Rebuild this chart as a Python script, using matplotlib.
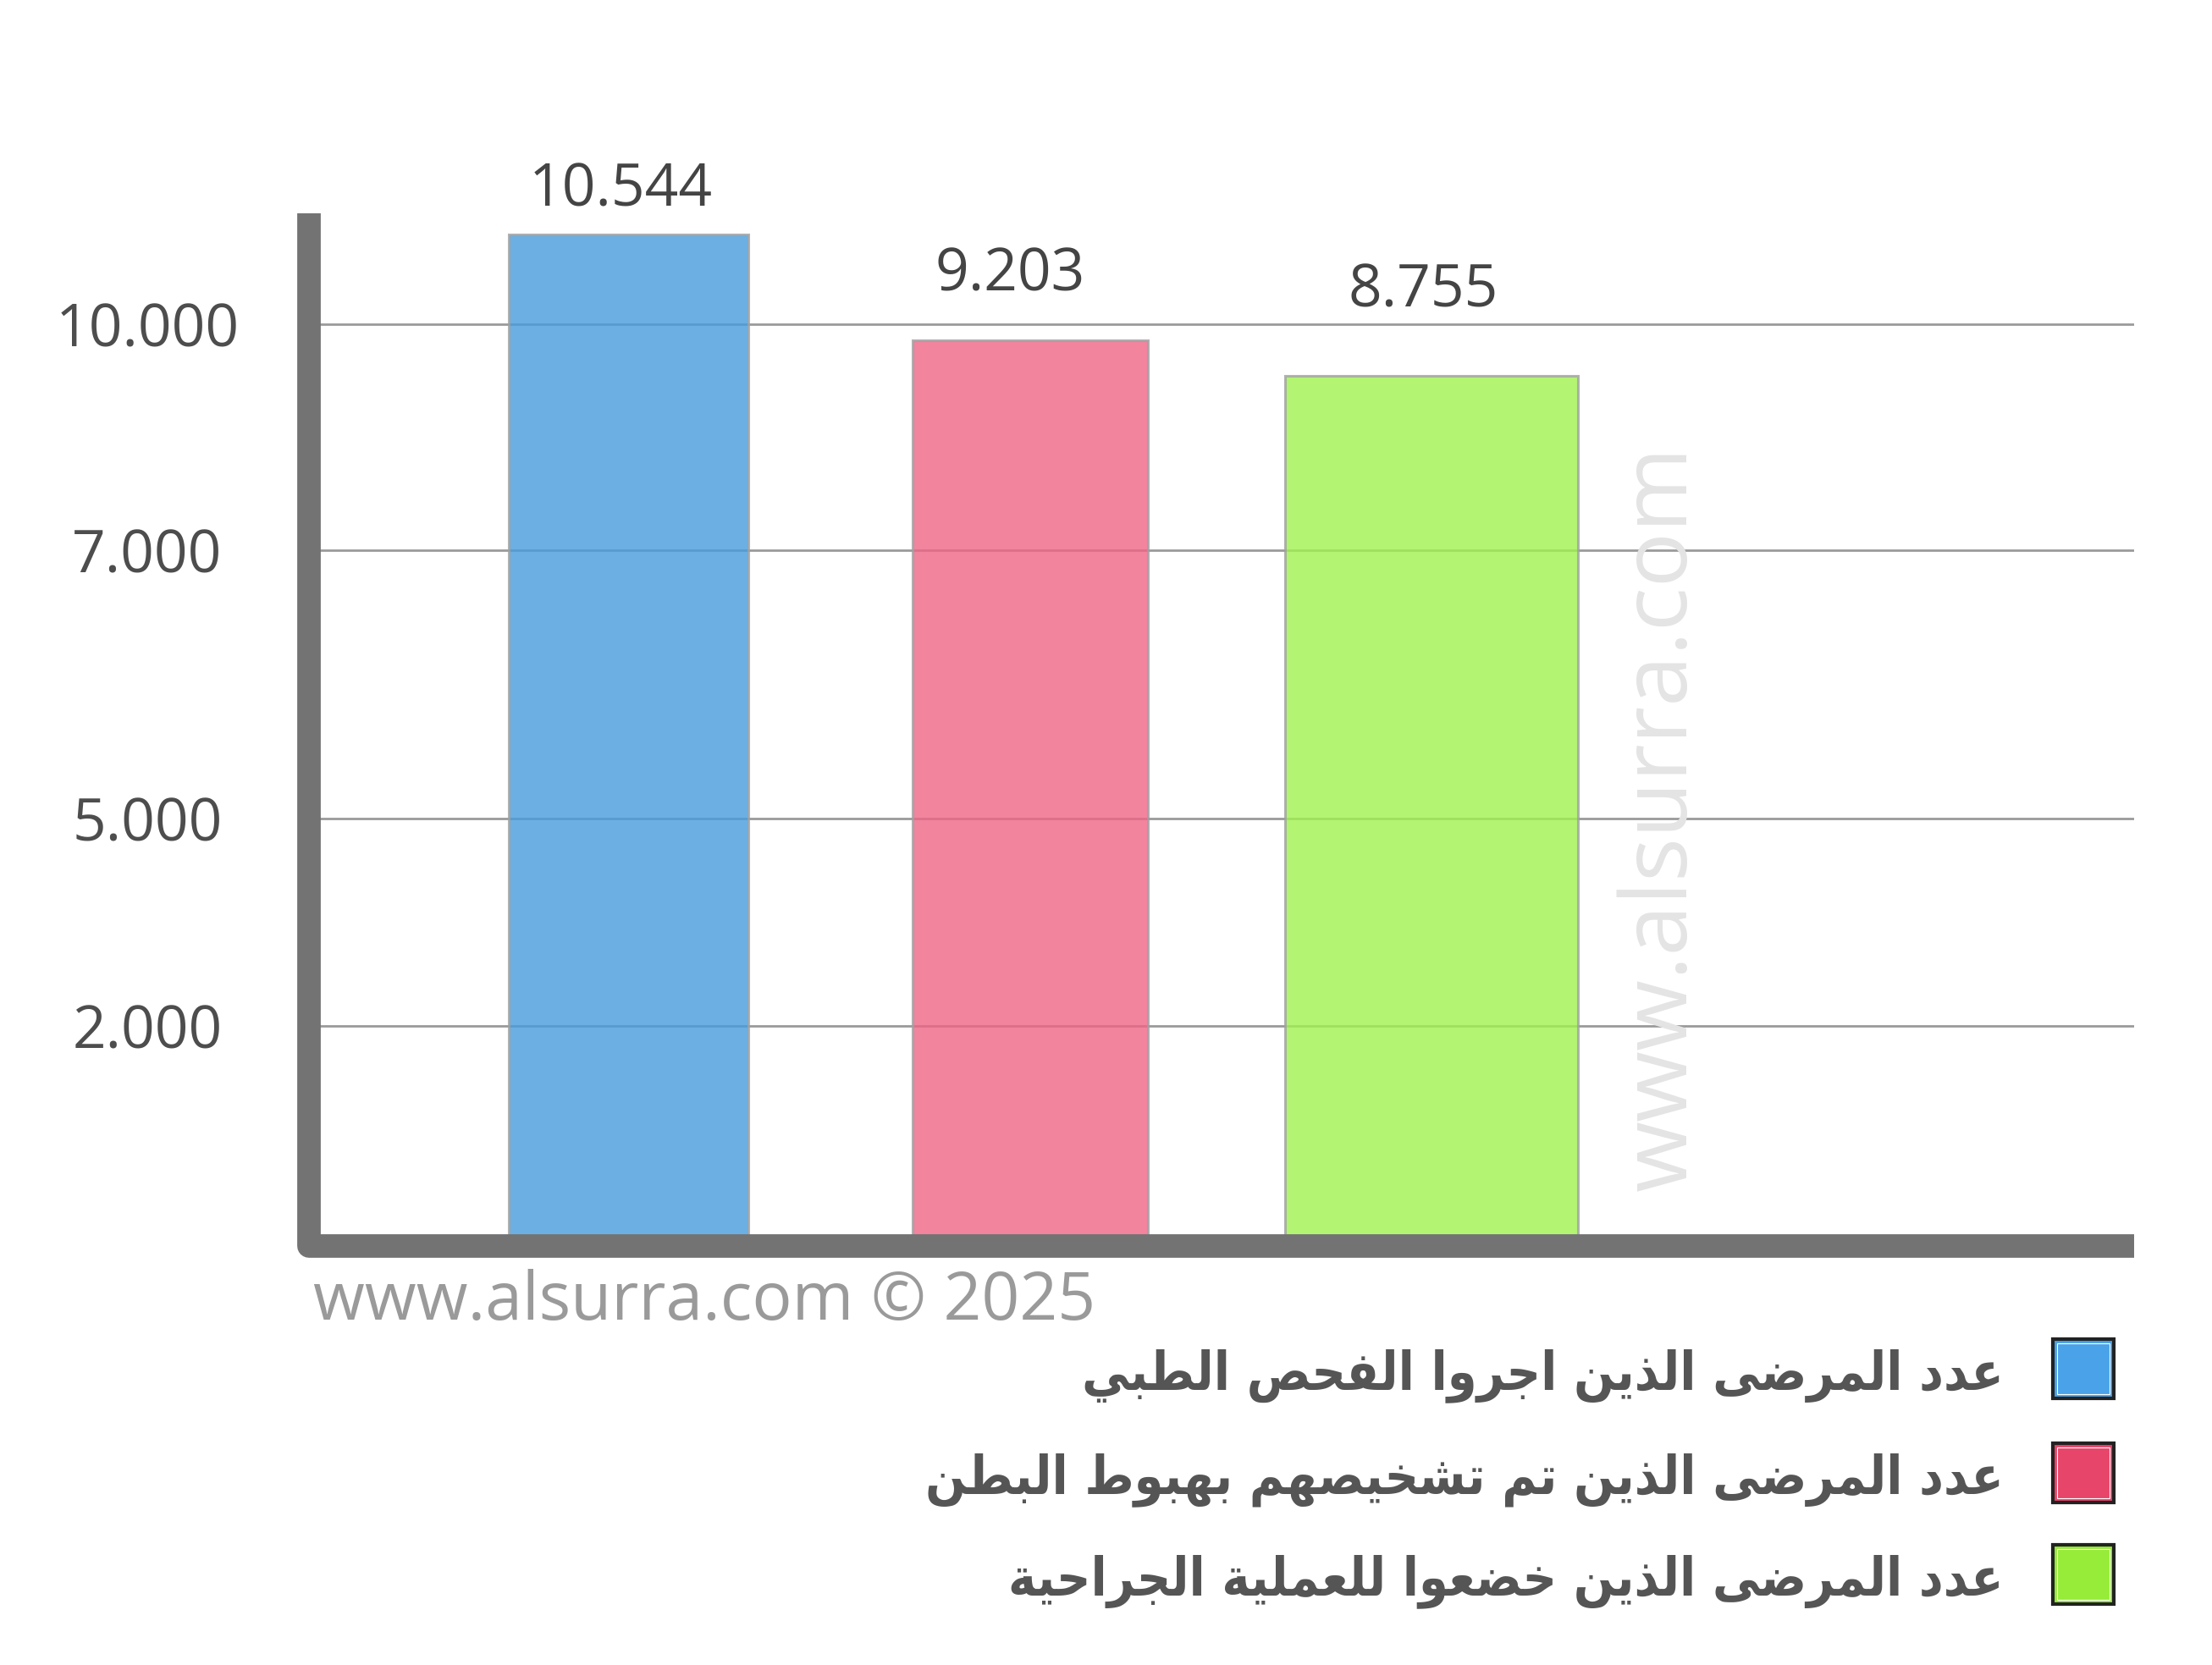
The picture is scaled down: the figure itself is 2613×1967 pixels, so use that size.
import matplotlib
matplotlib.use("Agg")
import matplotlib.pyplot as plt
from matplotlib.lines import Line2D
from matplotlib.patches import Rectangle
from matplotlib import font_manager

# ---------------- data ----------------
categories = [
    "عدد المرضى الذين اجروا الفحص الطبي",
    "عدد المرضى الذين تم تشخيصهم بهبوط البطن",
    "عدد المرضى الذين خضعوا للعملية الجراحية",
]
values = [10544, 9203, 8755]
value_labels = ["10.544", "9.203", "8.755"]
tick_labels = ["10.000", "7.000", "5.000", "2.000"]
tick_positions = [9410, 6545, 3144, 520]
y_min, y_max = -2146, 10805

bar_colors = ["#479cdd", "#ef6586", "#a0f34f"]
legend_colors = ["#4aa3e8", "#e8456a", "#97ec3a"]

# ---------------- arabic shaping ----------------
FORMS = {
    'ا': ('\uFE8D', '\uFE8E', None, None),
    'ب': ('\uFE8F', '\uFE90', '\uFE91', '\uFE92'),
    'ة': ('\uFE93', '\uFE94', None, None),
    'ت': ('\uFE95', '\uFE96', '\uFE97', '\uFE98'),
    'ج': ('\uFE9D', '\uFE9E', '\uFE9F', '\uFEA0'),
    'ح': ('\uFEA1', '\uFEA2', '\uFEA3', '\uFEA4'),
    'خ': ('\uFEA5', '\uFEA6', '\uFEA7', '\uFEA8'),
    'د': ('\uFEA9', '\uFEAA', None, None),
    'ذ': ('\uFEAB', '\uFEAC', None, None),
    'ر': ('\uFEAD', '\uFEAE', None, None),
    'ش': ('\uFEB5', '\uFEB6', '\uFEB7', '\uFEB8'),
    'ص': ('\uFEB9', '\uFEBA', '\uFEBB', '\uFEBC'),
    'ض': ('\uFEBD', '\uFEBE', '\uFEBF', '\uFEC0'),
    'ط': ('\uFEC1', '\uFEC2', '\uFEC3', '\uFEC4'),
    'ع': ('\uFEC9', '\uFECA', '\uFECB', '\uFECC'),
    'ف': ('\uFED1', '\uFED2', '\uFED3', '\uFED4'),
    'ل': ('\uFEDD', '\uFEDE', '\uFEDF', '\uFEE0'),
    'م': ('\uFEE1', '\uFEE2', '\uFEE3', '\uFEE4'),
    'ن': ('\uFEE5', '\uFEE6', '\uFEE7', '\uFEE8'),
    'ه': ('\uFEE9', '\uFEEA', '\uFEEB', '\uFEEC'),
    'و': ('\uFEED', '\uFEEE', None, None),
    'ى': ('\uFEEF', '\uFEF0', None, None),
    'ي': ('\uFEF1', '\uFEF2', '\uFEF3', '\uFEF4'),
}


def shape_arabic(text):
    out = []
    for i, c in enumerate(text):
        if c not in FORMS:
            out.append(c)
            continue
        iso, fin, ini, med = FORMS[c]
        prev = text[i - 1] if i > 0 else None
        nxt = text[i + 1] if i + 1 < len(text) else None
        jp = prev in FORMS and FORMS[prev][2] is not None
        jn = nxt in FORMS and ini is not None
        if jp and jn:
            g = med
        elif jp:
            g = fin
        elif jn:
            g = ini
        else:
            g = iso
        out.append(g)
    return "".join(reversed(out))


# condensed bold DejaVu if installed, else regular bold
cond = font_manager.FontProperties(family="DejaVu Sans", weight="bold",
                                   stretch="condensed")
cond_path = font_manager.findfont(cond)
is_cond = "Condensed" in cond_path
legend_font = font_manager.FontProperties(fname=cond_path,
                                          size=45 if is_cond else 41)

# ---------------- figure ----------------
W, H = 2613, 1967
fig = plt.figure(figsize=(W / 100, H / 100), dpi=100)
fig.patch.set_facecolor("white")

ax = fig.add_axes([378 / W, 1 - 1460 / H, (2521 - 378) / W, (1460 - 253) / H])
ax.set_xlim(-0.770, 3.751)
ax.set_ylim(y_min, y_max)
for s in ax.spines.values():
    s.set_visible(False)

# grid lines
for yp in tick_positions:
    ax.axhline(yp, color="#9a9a9a", lw=2.0, zorder=1)

x_pos = list(range(len(values)))
widths = [0.597, 0.586, 0.728]
bars = ax.bar(x_pos, [v - y_min for v in values], bottom=y_min, width=widths,
              color=bar_colors, alpha=0.8, edgecolor="#a0a0a0", linewidth=2.2,
              zorder=2)

# value labels
offsets = [(-7, 37), (-17, 55), (-7, 72)]
for xi, v, lab, off in zip(x_pos, values, value_labels, offsets):
    ax.annotate(lab, (xi, v), xytext=off, textcoords="offset points",
                ha="center", va="center", fontsize=50, color="#444444",
                family="Open Sans", zorder=5)

ax.set_xticks([])
ax.set_yticks(tick_positions)
ax.set_yticklabels(tick_labels, fontsize=50, color="#4d4d4d", family="Open Sans")
ax.tick_params(axis="y", length=0, pad=147)
for t in ax.get_yticklabels():
    t.set_horizontalalignment("center")

# thick axis lines
fig.add_artist(Line2D([365 / W, 365 / W, 2521 / W],
                      [1 - 252 / H, 1 - 1472 / H, 1 - 1472 / H],
                      transform=fig.transFigure, color="#737373", lw=20,
                      solid_joinstyle="round", solid_capstyle="butt"))

# watermark
fig.text(1963 / W, 1 - 966 / H, "www.alsurra.com", rotation=90, ha="center",
         va="center", fontsize=78, color="#e4e4e4", family="Open Sans")

# footer
fig.text(370 / W, 1 - 1538 / H, "www.alsurra.com © 2025", ha="left",
         va="center", fontsize=56.5, color="#9a9a9a", family="Open Sans")

# legend
row_y = [1617, 1740, 1860]
for lab, col, ry in zip(categories, legend_colors, row_y):
    fig.add_artist(Rectangle((2425 / W, 1 - (ry + 35) / H), 72 / W, 70 / H,
                             transform=fig.transFigure, facecolor=col,
                             edgecolor="#222222", linewidth=3))
    fig.add_artist(Rectangle((2430 / W, 1 - (ry + 30) / H), 62 / W, 60 / H,
                             transform=fig.transFigure, facecolor="none",
                             edgecolor="white", linewidth=0.8))
    fig.text(2367 / W, 1 - (ry + 8) / H, shape_arabic(lab), ha="right",
             va="center", color="#555555", fontproperties=legend_font)

fig.savefig("out.png", dpi=100)
